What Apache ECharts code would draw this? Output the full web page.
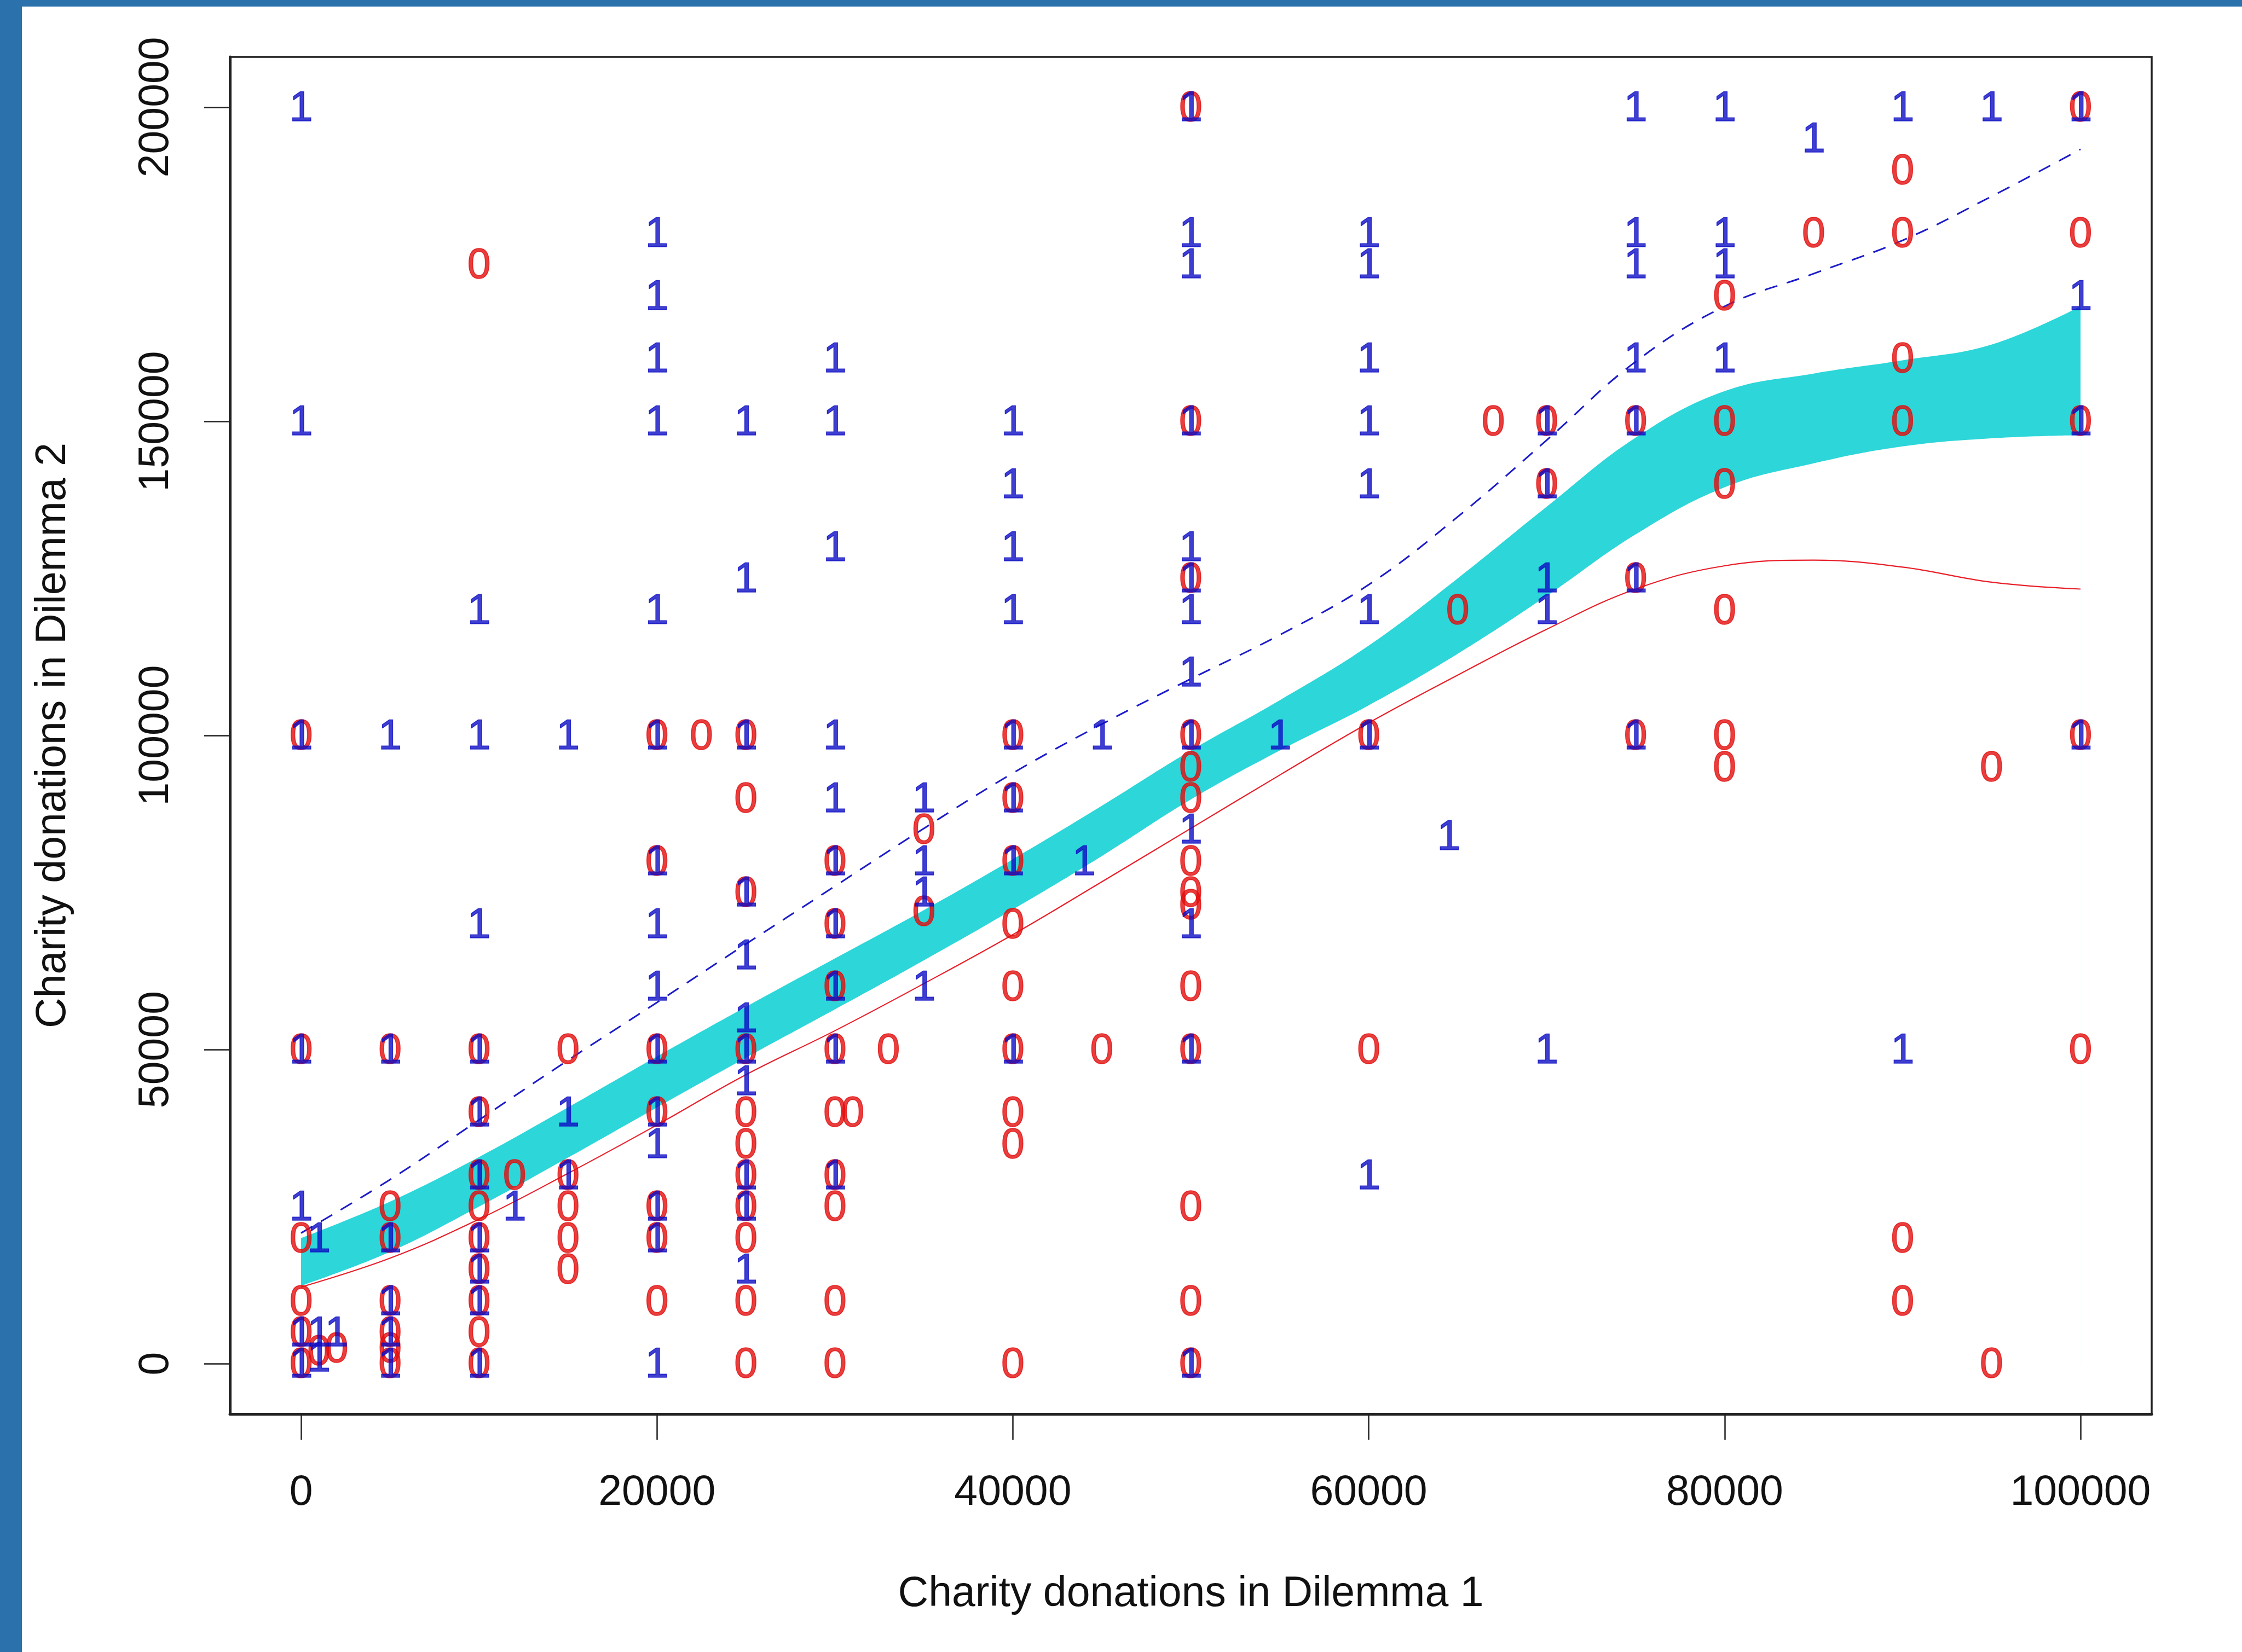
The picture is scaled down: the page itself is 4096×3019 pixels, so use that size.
<!DOCTYPE html>
<html><head><meta charset="utf-8">
<script src="https://cdn.jsdelivr.net/npm/echarts@6/dist/echarts.min.js"></script>
<style>
html,body{margin:0;padding:0;background:#fff;}
#wrap{position:relative;width:4096px;height:3019px;background:#fff;overflow:hidden;}
#chart{position:absolute;left:0;top:0;width:4096px;height:3019px;}
#bl{position:absolute;left:0;top:0;width:40px;height:3019px;background:#2b72ac;}
#bt{position:absolute;left:0;top:0;width:4096px;height:12px;background:#2b72ac;}
</style></head><body>
<div id="wrap"><div id="chart"></div><div id="bl"></div><div id="bt"></div></div>
<script>
// ---- tick labels ----
const xTicks = [0, 20000, 40000, 60000, 80000, 100000];
const yTicks = [0, 50000, 100000, 150000, 200000];

// ---- observations labelled "0" (red) ----
const zeroPoints = [
 [0,100000],[0,50000],[0,20000],[0,10000],[0,5000],[0,0],[1000,2000],[2000,2500],
 [5000,50000],[5000,25000],[5000,20000],[5000,10000],[5000,5000],[5000,2500],[5000,0],
 [10000,175000],[10000,50000],[10000,40000],[10000,30000],[10000,25000],[10000,20000],[10000,15000],[10000,10000],[10000,5000],[10000,0],
 [12000,30000],
 [15000,50000],[15000,30000],[15000,25000],[15000,20000],[15000,15000],
 [20000,100000],[20000,80000],[20000,50000],[20000,40000],[20000,25000],[20000,20000],[20000,10000],
 [22500,100000],
 [25000,100000],[25000,90000],[25000,75000],[25000,50000],[25000,40000],[25000,35000],[25000,30000],[25000,25000],[25000,20000],[25000,10000],[25000,0],
 [30000,80000],[30000,70000],[30000,60000],[30000,50000],[30000,40000],[31000,40000],[30000,30000],[30000,25000],[30000,10000],[30000,0],
 [33000,50000],
 [35000,85000],[35000,72000],
 [40000,100000],[40000,90000],[40000,80000],[40000,70000],[40000,60000],[40000,50000],[40000,40000],[40000,35000],[40000,0],
 [45000,50000],
 [50000,200000],[50000,150000],[50000,125000],[50000,100000],[50000,95000],[50000,90000],[50000,80000],[50000,75000],[50000,73000],[50000,60000],[50000,50000],[50000,25000],[50000,10000],[50000,0],
 [60000,100000],[60000,50000],
 [65000,120000],[67000,150000],
 [70000,150000],[70000,140000],
 [75000,150000],[75000,125000],[75000,100000],
 [80000,170000],[80000,150000],[80000,140000],[80000,120000],[80000,100000],[80000,95000],
 [85000,180000],
 [90000,190000],[90000,180000],[90000,160000],[90000,150000],[90000,20000],[90000,10000],
 [95000,95000],[95000,0],
 [100000,200000],[100000,180000],[100000,150000],[100000,100000],[100000,50000]
];

// ---- observations labelled "1" (blue) ----
const onePoints = [
 [0,200000],[0,150000],[0,100000],[0,50000],[0,25000],[0,5000],[0,0],
 [1000,20000],[1000,5000],[2000,5000],[1000,1000],
 [5000,100000],[5000,50000],[5000,20000],[5000,10000],[5000,5000],[5000,0],
 [10000,120000],[10000,100000],[10000,70000],[10000,50000],[10000,40000],[10000,30000],[10000,20000],[10000,15000],[10000,10000],[10000,0],
 [12000,25000],
 [15000,100000],[15000,40000],[15000,30000],
 [20000,180000],[20000,170000],[20000,160000],[20000,150000],[20000,120000],[20000,100000],[20000,80000],[20000,70000],[20000,60000],[20000,50000],[20000,40000],[20000,35000],[20000,25000],[20000,20000],[20000,0],
 [25000,150000],[25000,125000],[25000,100000],[25000,75000],[25000,65000],[25000,55000],[25000,50000],[25000,45000],[25000,30000],[25000,25000],[25000,15000],
 [30000,160000],[30000,150000],[30000,130000],[30000,100000],[30000,90000],[30000,80000],[30000,70000],[30000,60000],[30000,50000],[30000,30000],
 [35000,90000],[35000,80000],[35000,75000],[35000,60000],
 [40000,150000],[40000,140000],[40000,130000],[40000,120000],[40000,100000],[40000,90000],[40000,80000],[40000,50000],
 [44000,80000],[45000,100000],
 [50000,200000],[50000,180000],[50000,175000],[50000,150000],[50000,130000],[50000,125000],[50000,120000],[50000,110000],[50000,100000],[50000,85000],[50000,70000],[50000,50000],[50000,0],
 [55000,100000],
 [60000,180000],[60000,175000],[60000,160000],[60000,150000],[60000,140000],[60000,120000],[60000,100000],[60000,30000],
 [64500,84000],
 [70000,150000],[70000,140000],[70000,125000],[70000,120000],[70000,50000],
 [75000,200000],[75000,180000],[75000,175000],[75000,160000],[75000,150000],[75000,125000],[75000,100000],
 [80000,200000],[80000,180000],[80000,175000],[80000,160000],
 [85000,195000],
 [90000,200000],[90000,50000],
 [95000,200000],
 [100000,200000],[100000,170000],[100000,150000],[100000,100000]
];

// ---- fitted curves (x grid shared) ----
const curveX     = [0,5000,10000,15000,20000,25000,30000,35000,40000,45000,50000,55000,60000,65000,70000,75000,80000,85000,90000,95000,100000];
const bandLow    = [12400,17800,25000,32800,40800,48700,56400,64200,72300,80800,89800,97600,104800,113000,122200,132000,139500,143300,146000,147300,147800];
const bandHigh   = [20000,25800,32900,40800,48900,56800,64500,72200,80300,88800,97600,105600,114300,125000,136400,147400,154800,157600,159700,162200,168300];
const dashedBlue = [20800,29300,38800,48300,57500,66800,76000,85200,94000,101800,109000,116000,124000,134800,147000,159500,168300,173500,178800,185800,193300];
const solidRed   = [12200,16800,23000,30300,38000,46000,53000,60500,68300,76700,85200,93700,102000,109600,116900,123300,127000,127900,126800,124400,123300];

const FONT = '"Liberation Sans", Arial, Helvetica, sans-serif';
const TXT = '#111111';
const pairs = (xs, ys) => xs.map((x, i) => [x, ys[i]]);

function labelSeries(name, points, text, color) {
  return {
    name, type: 'scatter', data: points, symbol: 'circle', symbolSize: 2,
    itemStyle: { color: 'rgba(0,0,0,0)' }, silent: true, z: 5,
    emphasis: { disabled: true },
    label: { show: true, position: 'inside', formatter: text, color, fontSize: 77, fontFamily: FONT,
             offset: [0, 4], textBorderColor: color, textBorderWidth: 1.5 }
  };
}

const chart = echarts.init(document.getElementById('chart'), null, { renderer: 'canvas' });
chart.setOption({
  animation: false,
  grid: { left: 420, top: 104, width: 3511, height: 2480, show: true, borderColor: '#222', borderWidth: 3.5, backgroundColor: 'transparent' },
  xAxis: {
    type: 'value', min: -4000, max: 104000,
    axisLine: { show: true, onZero: false, lineStyle: { color: '#222', width: 5 } },
    axisTick: { show: true, customValues: xTicks, length: 47, lineStyle: { color: '#222', width: 2.5 } },
    axisLabel: { customValues: xTicks, formatter: v => String(v), fontSize: 77, color: TXT, fontFamily: FONT, margin: 106 },
    splitLine: { show: false },
    name: 'Charity donations in Dilemma 1', nameLocation: 'middle', nameGap: 291,
    nameTextStyle: { fontSize: 77, color: TXT, fontFamily: FONT }
  },
  yAxis: {
    type: 'value', min: -8000, max: 208000,
    axisLine: { show: true, onZero: false, lineStyle: { color: '#222', width: 5 } },
    axisTick: { show: true, customValues: yTicks, length: 47, lineStyle: { color: '#222', width: 2.5 } },
    axisLabel: { customValues: yTicks, formatter: v => String(v), fontSize: 77, color: TXT, fontFamily: FONT, margin: 96, rotate: 90 },
    splitLine: { show: false },
    name: 'Charity donations in Dilemma 2', nameLocation: 'middle', nameGap: 284, nameRotate: 90,
    nameTextStyle: { fontSize: 77, color: TXT, fontFamily: FONT }
  },
  series: [
    // confidence band: upper edge filled cyan down to 0, lower edge filled white further down (hides the rest)
    { name: 'bandHigh', type: 'line', data: pairs(curveX, bandHigh), symbol: 'none', smooth: 0.4,
      lineStyle: { width: 0, opacity: 0 }, areaStyle: { color: '#2cd6d9', opacity: 1, origin: 0 }, silent: true, z: 1 },
    { name: 'bandLow', type: 'line', data: pairs(curveX, bandLow), symbol: 'none', smooth: 0.4,
      lineStyle: { width: 0, opacity: 0 }, areaStyle: { color: '#ffffff', opacity: 1, origin: -3000 }, silent: true, z: 1 },
    { name: 'red', type: 'line', data: pairs(curveX, solidRed), symbol: 'none', smooth: 0.4,
      lineStyle: { color: '#e8202a', width: 2.2 }, silent: true, z: 3 },
    { name: 'blue', type: 'line', data: pairs(curveX, dashedBlue), symbol: 'none', smooth: 0.4,
      lineStyle: { color: '#1c1cc8', width: 3, type: [24, 18] }, silent: true, z: 3 },
    labelSeries('zeros', zeroPoints, '0', '#e20e0e'),
    labelSeries('ones', onePoints, '1', '#0e0ec4')
  ]
});
</script>
</body></html>
